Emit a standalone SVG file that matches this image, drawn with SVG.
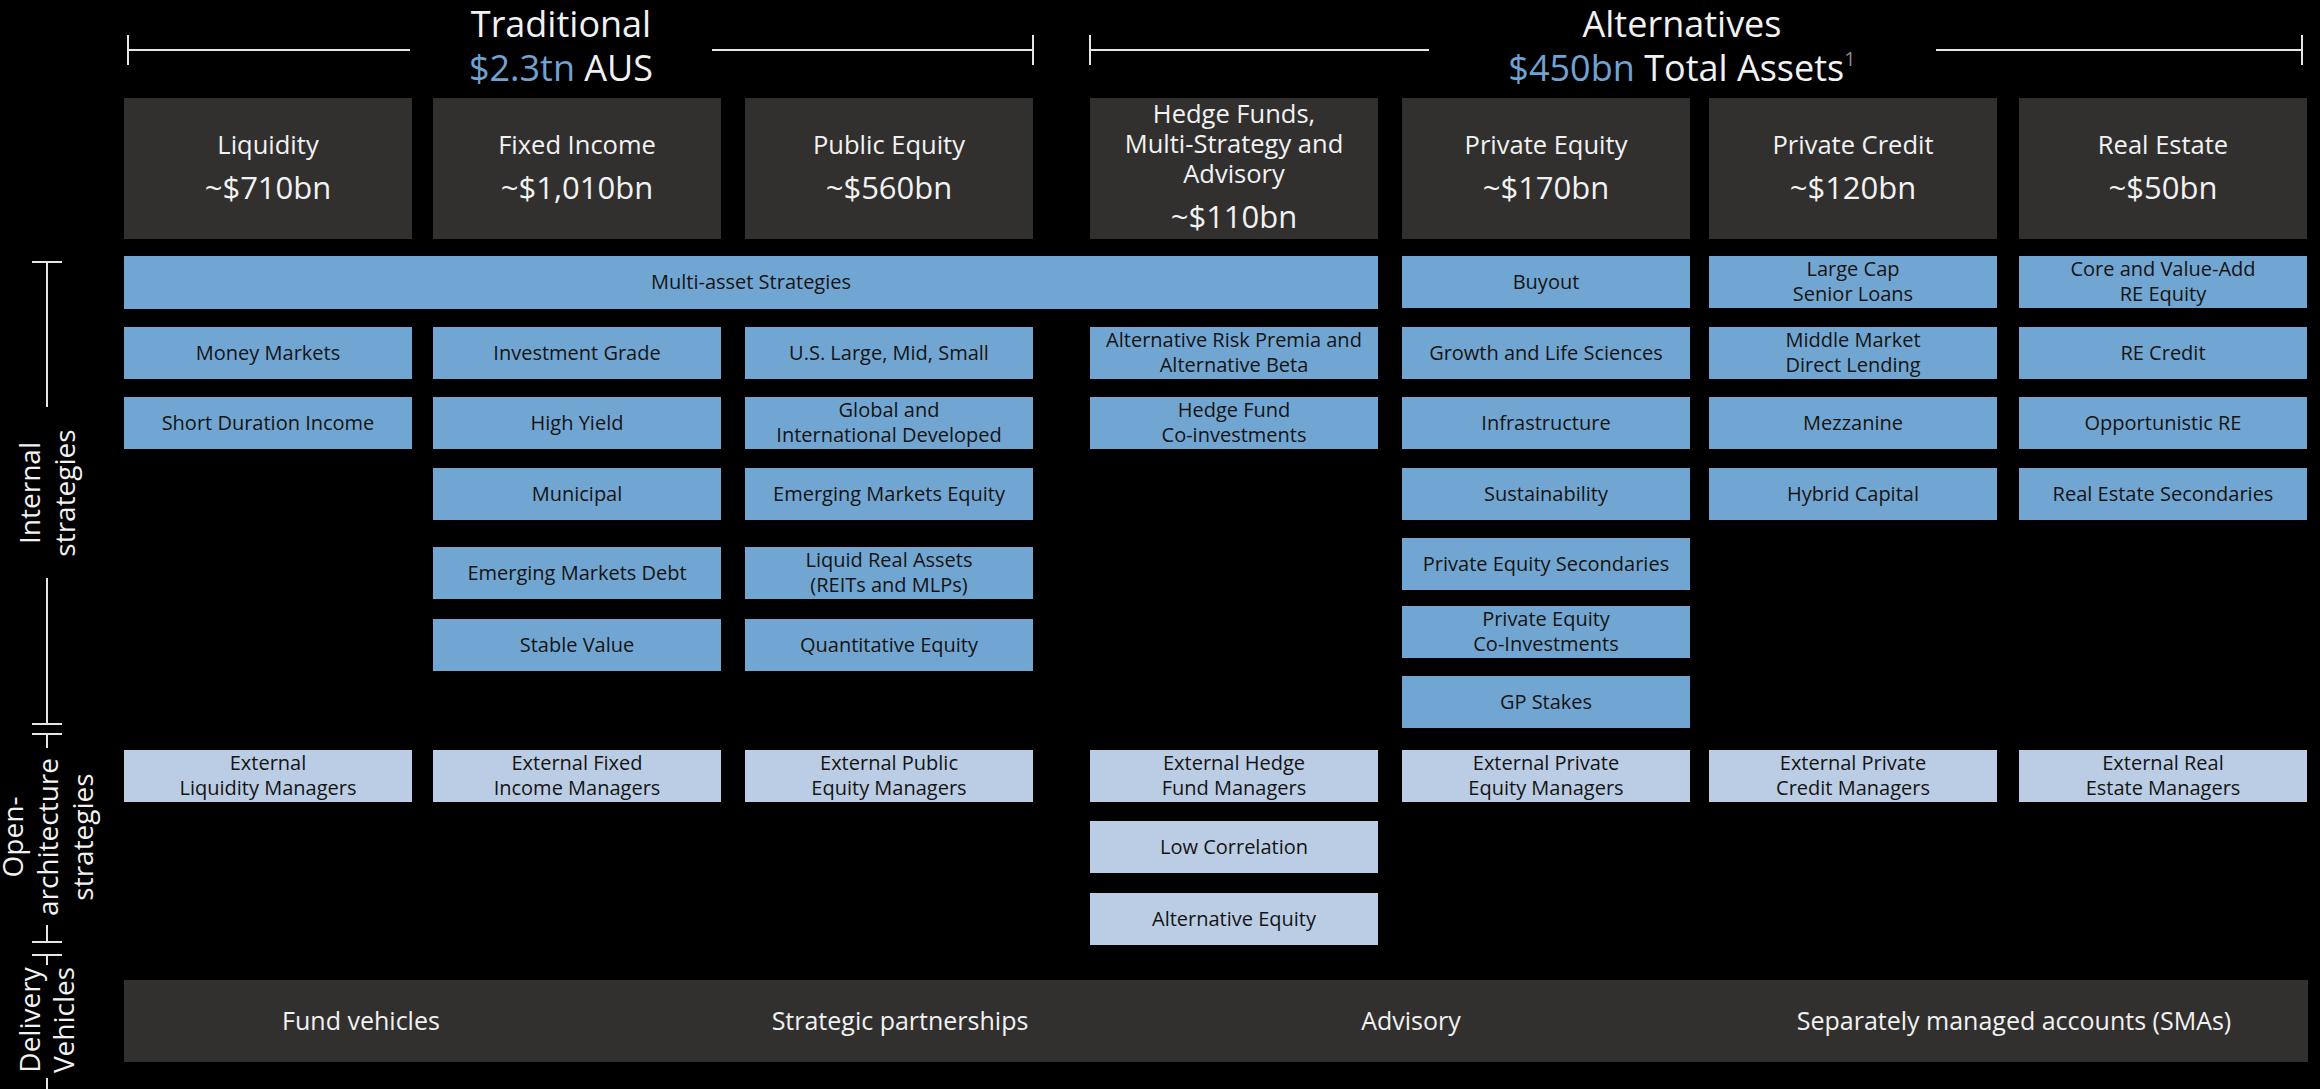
<svg xmlns="http://www.w3.org/2000/svg" width="2320" height="1089" viewBox="0 0 2320 1089">
<style>
text{font-family:"Open Sans","Noto Sans","DejaVu Sans",sans-serif}
.hdr{fill:#31302f}
.blue{fill:#72a6d2}
.lblue{fill:#bbcde5}
.bt{font-size:20px;fill:#141414;text-anchor:middle}
.ht{font-size:25.5px;fill:#f2f2f2;text-anchor:middle}
.amt{font-size:31px;fill:#f2f2f2;text-anchor:middle}
.title{font-size:36px;fill:#f2f2f2;text-anchor:middle}
.acc{fill:#6fa3d3}
.sup{font-size:20px;fill:#8c8c8c}
.side{font-size:28px;fill:#f2f2f2;text-anchor:middle}
.dv{font-size:25px;fill:#f2f2f2;text-anchor:middle}
.br{stroke:#e6e6e6;stroke-width:2;fill:none}
</style>
<rect width="2320" height="1089" fill="#000"/>

<g id="connectors">
<path class="br" d="M128,35 V65 M128,50 H410 M712,50 H1033 M1033,35 V65"/>
<path class="br" d="M1090,35 V65 M1090,50 H1429 M1936,50 H2302 M2302,35 V65"/>
<path class="br" d="M32,262 H62 M47,262 V407 M47,578 V724 M32,724 H62"/>
<path class="br" d="M32,734 H62 M47,734 V748 M47,925 V942 M32,942 H62"/>
<path class="br" d="M32,955 H62 M47,955 V965 M47,1078 V1089"/>
</g>

<g id="title-traditional">
<text class="title" x="561" y="37">Traditional</text>
<text class="title" x="561" y="81"><tspan class="acc">$2.3tn</tspan> AUS</text>
</g>
<g id="title-alternatives">
<text class="title" x="1682" y="37">Alternatives</text>
<text class="title" x="1682" y="81"><tspan class="acc">$450bn</tspan> Total Assets<tspan class="sup" dy="-15">1</tspan></text>
</g>

<g id="label-internal">
<text class="side" transform="translate(40,493) rotate(-90)">Internal</text>
<text class="side" transform="translate(75,493) rotate(-90)">strategies</text>
</g>
<g id="label-open">
<text class="side" transform="translate(23,837) rotate(-90)">Open-</text>
<text class="side" transform="translate(58,837) rotate(-90)">architecture</text>
<text class="side" transform="translate(93,837) rotate(-90)">strategies</text>
</g>
<g id="label-delivery">
<text class="side" transform="translate(40,1020) rotate(-90)">Delivery</text>
<text class="side" transform="translate(74,1020) rotate(-90)">Vehicles</text>
</g>

<!-- headers -->
<g id="hdr-liquidity"><rect class="hdr" x="124" y="98" width="288" height="141"/><text class="ht" x="268" y="154">Liquidity</text><text class="amt" x="268" y="199">~$710bn</text></g>
<g id="hdr-fixed"><rect class="hdr" x="433" y="98" width="288" height="141"/><text class="ht" x="577" y="154">Fixed Income</text><text class="amt" x="577" y="199">~$1,010bn</text></g>
<g id="hdr-public"><rect class="hdr" x="745" y="98" width="288" height="141"/><text class="ht" x="889" y="154">Public Equity</text><text class="amt" x="889" y="199">~$560bn</text></g>
<g id="hdr-hedge"><rect class="hdr" x="1090" y="98" width="288" height="141"/><text class="ht" x="1234" y="123">Hedge Funds,</text><text class="ht" x="1234" y="153">Multi-Strategy and</text><text class="ht" x="1234" y="183">Advisory</text><text class="amt" x="1234" y="228">~$110bn</text></g>
<g id="hdr-pe"><rect class="hdr" x="1402" y="98" width="288" height="141"/><text class="ht" x="1546" y="154">Private Equity</text><text class="amt" x="1546" y="199">~$170bn</text></g>
<g id="hdr-pc"><rect class="hdr" x="1709" y="98" width="288" height="141"/><text class="ht" x="1853" y="154">Private Credit</text><text class="amt" x="1853" y="199">~$120bn</text></g>
<g id="hdr-re"><rect class="hdr" x="2019" y="98" width="288" height="141"/><text class="ht" x="2163" y="154">Real Estate</text><text class="amt" x="2163" y="199">~$50bn</text></g>

<!-- multi-asset -->
<g id="multi-asset"><rect class="blue" x="124" y="256" width="1254" height="53"/><text class="bt" x="751" y="289">Multi-asset Strategies</text></g>

<!-- Liquidity -->
<g id="money-markets"><rect class="blue" x="124" y="327" width="288" height="52"/><text class="bt" x="268" y="360">Money Markets</text></g>
<g id="short-duration"><rect class="blue" x="124" y="397" width="288" height="52"/><text class="bt" x="268" y="430">Short Duration Income</text></g>

<!-- Fixed income -->
<g id="investment-grade"><rect class="blue" x="433" y="327" width="288" height="52"/><text class="bt" x="577" y="360">Investment Grade</text></g>
<g id="high-yield"><rect class="blue" x="433" y="397" width="288" height="52"/><text class="bt" x="577" y="430">High Yield</text></g>
<g id="municipal"><rect class="blue" x="433" y="468" width="288" height="52"/><text class="bt" x="577" y="501">Municipal</text></g>
<g id="em-debt"><rect class="blue" x="433" y="547" width="288" height="52"/><text class="bt" x="577" y="580">Emerging Markets Debt</text></g>
<g id="stable-value"><rect class="blue" x="433" y="619" width="288" height="52"/><text class="bt" x="577" y="652">Stable Value</text></g>

<!-- Public equity -->
<g id="us-lms"><rect class="blue" x="745" y="327" width="288" height="52"/><text class="bt" x="889" y="360">U.S. Large, Mid, Small</text></g>
<g id="global-intl"><rect class="blue" x="745" y="397" width="288" height="52"/><text class="bt" x="889" y="417">Global and</text><text class="bt" x="889" y="442">International Developed</text></g>
<g id="em-equity"><rect class="blue" x="745" y="468" width="288" height="52"/><text class="bt" x="889" y="501">Emerging Markets Equity</text></g>
<g id="liquid-real"><rect class="blue" x="745" y="547" width="288" height="52"/><text class="bt" x="889" y="567">Liquid Real Assets</text><text class="bt" x="889" y="592">(REITs and MLPs)</text></g>
<g id="quant-equity"><rect class="blue" x="745" y="619" width="288" height="52"/><text class="bt" x="889" y="652">Quantitative Equity</text></g>

<!-- Hedge -->
<g id="arp"><rect class="blue" x="1090" y="327" width="288" height="52"/><text class="bt" x="1234" y="347">Alternative Risk Premia and</text><text class="bt" x="1234" y="372">Alternative Beta</text></g>
<g id="hf-coinv"><rect class="blue" x="1090" y="397" width="288" height="52"/><text class="bt" x="1234" y="417">Hedge Fund</text><text class="bt" x="1234" y="442">Co-investments</text></g>

<!-- Private equity -->
<g id="buyout"><rect class="blue" x="1402" y="256" width="288" height="52"/><text class="bt" x="1546" y="289">Buyout</text></g>
<g id="growth"><rect class="blue" x="1402" y="327" width="288" height="52"/><text class="bt" x="1546" y="360">Growth and Life Sciences</text></g>
<g id="infra"><rect class="blue" x="1402" y="397" width="288" height="52"/><text class="bt" x="1546" y="430">Infrastructure</text></g>
<g id="sustain"><rect class="blue" x="1402" y="468" width="288" height="52"/><text class="bt" x="1546" y="501">Sustainability</text></g>
<g id="pe-sec"><rect class="blue" x="1402" y="538" width="288" height="52"/><text class="bt" x="1546" y="571">Private Equity Secondaries</text></g>
<g id="pe-coinv"><rect class="blue" x="1402" y="606" width="288" height="52"/><text class="bt" x="1546" y="626">Private Equity</text><text class="bt" x="1546" y="651">Co-Investments</text></g>
<g id="gp-stakes"><rect class="blue" x="1402" y="676" width="288" height="52"/><text class="bt" x="1546" y="709">GP Stakes</text></g>

<!-- Private credit -->
<g id="large-cap"><rect class="blue" x="1709" y="256" width="288" height="52"/><text class="bt" x="1853" y="276">Large Cap</text><text class="bt" x="1853" y="301">Senior Loans</text></g>
<g id="middle-market"><rect class="blue" x="1709" y="327" width="288" height="52"/><text class="bt" x="1853" y="347">Middle Market</text><text class="bt" x="1853" y="372">Direct Lending</text></g>
<g id="mezzanine"><rect class="blue" x="1709" y="397" width="288" height="52"/><text class="bt" x="1853" y="430">Mezzanine</text></g>
<g id="hybrid"><rect class="blue" x="1709" y="468" width="288" height="52"/><text class="bt" x="1853" y="501">Hybrid Capital</text></g>

<!-- Real estate -->
<g id="core-va"><rect class="blue" x="2019" y="256" width="288" height="52"/><text class="bt" x="2163" y="276">Core and Value-Add</text><text class="bt" x="2163" y="301">RE Equity</text></g>
<g id="re-credit"><rect class="blue" x="2019" y="327" width="288" height="52"/><text class="bt" x="2163" y="360">RE Credit</text></g>
<g id="opp-re"><rect class="blue" x="2019" y="397" width="288" height="52"/><text class="bt" x="2163" y="430">Opportunistic RE</text></g>
<g id="re-sec"><rect class="blue" x="2019" y="468" width="288" height="52"/><text class="bt" x="2163" y="501">Real Estate Secondaries</text></g>

<!-- External -->
<g id="ext-liq"><rect class="lblue" x="124" y="750" width="288" height="52"/><text class="bt" x="268" y="770">External</text><text class="bt" x="268" y="795">Liquidity Managers</text></g>
<g id="ext-fi"><rect class="lblue" x="433" y="750" width="288" height="52"/><text class="bt" x="577" y="770">External Fixed</text><text class="bt" x="577" y="795">Income Managers</text></g>
<g id="ext-pub"><rect class="lblue" x="745" y="750" width="288" height="52"/><text class="bt" x="889" y="770">External Public</text><text class="bt" x="889" y="795">Equity Managers</text></g>
<g id="ext-hf"><rect class="lblue" x="1090" y="750" width="288" height="52"/><text class="bt" x="1234" y="770">External Hedge</text><text class="bt" x="1234" y="795">Fund Managers</text></g>
<g id="low-corr"><rect class="lblue" x="1090" y="821" width="288" height="52"/><text class="bt" x="1234" y="854">Low Correlation</text></g>
<g id="alt-equity"><rect class="lblue" x="1090" y="893" width="288" height="52"/><text class="bt" x="1234" y="926">Alternative Equity</text></g>
<g id="ext-pe"><rect class="lblue" x="1402" y="750" width="288" height="52"/><text class="bt" x="1546" y="770">External Private</text><text class="bt" x="1546" y="795">Equity Managers</text></g>
<g id="ext-pc"><rect class="lblue" x="1709" y="750" width="288" height="52"/><text class="bt" x="1853" y="770">External Private</text><text class="bt" x="1853" y="795">Credit Managers</text></g>
<g id="ext-re"><rect class="lblue" x="2019" y="750" width="288" height="52"/><text class="bt" x="2163" y="770">External Real</text><text class="bt" x="2163" y="795">Estate Managers</text></g>

<!-- Delivery -->
<g id="delivery"><rect class="hdr" x="124" y="980" width="2184" height="82"/>
<text class="dv" x="361" y="1030">Fund vehicles</text>
<text class="dv" x="900" y="1030">Strategic partnerships</text>
<text class="dv" x="1411" y="1030">Advisory</text>
<text class="dv" x="2014" y="1030">Separately managed accounts (SMAs)</text>
</g>
</svg>
